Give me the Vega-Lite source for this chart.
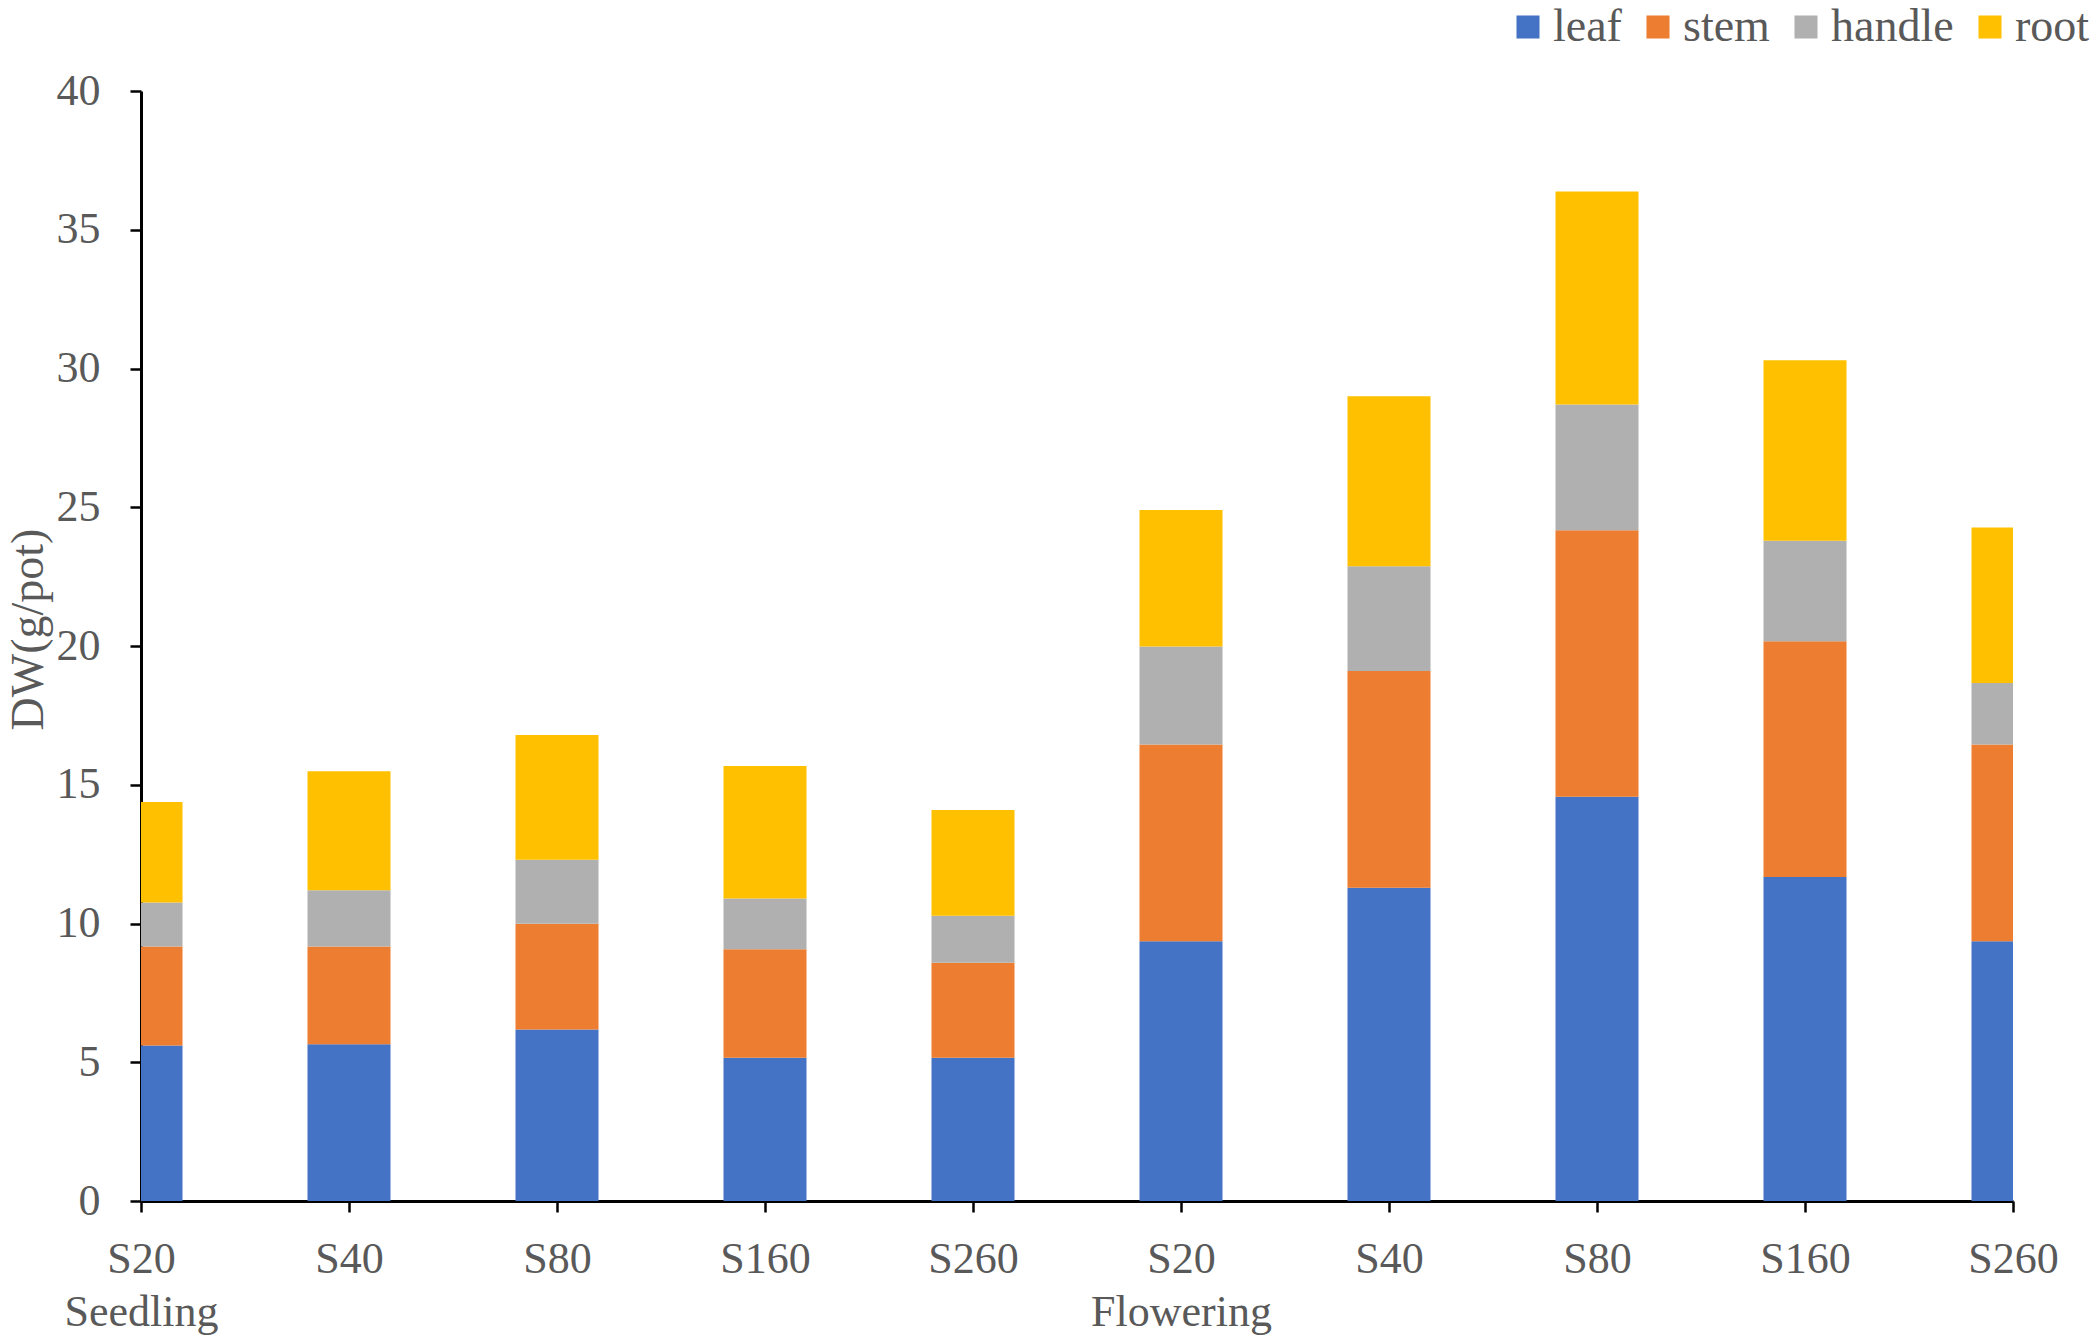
{
  "$schema": "https://vega.github.io/schema/vega-lite/v6.json",
  "width": 1872,
  "height": 1110,
  "autosize": {"type": "none"},
  "padding": {"left": 141, "top": 91, "right": 87, "bottom": 141},
  "background": "white",
  "config": {
    "view": {"stroke": null},
    "font": "Liberation Serif"
  },
  "data": {
    "values": [
      {"treatment": "Seedling S20", "part": "leaf", "value": 5.6},
      {"treatment": "Seedling S20", "part": "stem", "value": 3.57},
      {"treatment": "Seedling S20", "part": "handle", "value": 1.59},
      {"treatment": "Seedling S20", "part": "root", "value": 3.62},
      {"treatment": "Seedling S40", "part": "leaf", "value": 5.65},
      {"treatment": "Seedling S40", "part": "stem", "value": 3.52},
      {"treatment": "Seedling S40", "part": "handle", "value": 2.03},
      {"treatment": "Seedling S40", "part": "root", "value": 4.29},
      {"treatment": "Seedling S80", "part": "leaf", "value": 6.18},
      {"treatment": "Seedling S80", "part": "stem", "value": 3.81},
      {"treatment": "Seedling S80", "part": "handle", "value": 2.31},
      {"treatment": "Seedling S80", "part": "root", "value": 4.49},
      {"treatment": "Seedling S160", "part": "leaf", "value": 5.16},
      {"treatment": "Seedling S160", "part": "stem", "value": 3.91},
      {"treatment": "Seedling S160", "part": "handle", "value": 1.83},
      {"treatment": "Seedling S160", "part": "root", "value": 4.78},
      {"treatment": "Seedling S260", "part": "leaf", "value": 5.16},
      {"treatment": "Seedling S260", "part": "stem", "value": 3.43},
      {"treatment": "Seedling S260", "part": "handle", "value": 1.69},
      {"treatment": "Seedling S260", "part": "root", "value": 3.81},
      {"treatment": "Flowering S20", "part": "leaf", "value": 9.36},
      {"treatment": "Flowering S20", "part": "stem", "value": 7.09},
      {"treatment": "Flowering S20", "part": "handle", "value": 3.53},
      {"treatment": "Flowering S20", "part": "root", "value": 4.92},
      {"treatment": "Flowering S40", "part": "leaf", "value": 11.29},
      {"treatment": "Flowering S40", "part": "stem", "value": 7.81},
      {"treatment": "Flowering S40", "part": "handle", "value": 3.77},
      {"treatment": "Flowering S40", "part": "root", "value": 6.13},
      {"treatment": "Flowering S80", "part": "leaf", "value": 14.57},
      {"treatment": "Flowering S80", "part": "stem", "value": 9.6},
      {"treatment": "Flowering S80", "part": "handle", "value": 4.53},
      {"treatment": "Flowering S80", "part": "root", "value": 7.68},
      {"treatment": "Flowering S160", "part": "leaf", "value": 11.68},
      {"treatment": "Flowering S160", "part": "stem", "value": 8.49},
      {"treatment": "Flowering S160", "part": "handle", "value": 3.62},
      {"treatment": "Flowering S160", "part": "root", "value": 6.51},
      {"treatment": "Flowering S260", "part": "leaf", "value": 9.36},
      {"treatment": "Flowering S260", "part": "stem", "value": 7.09},
      {"treatment": "Flowering S260", "part": "handle", "value": 2.22},
      {"treatment": "Flowering S260", "part": "root", "value": 5.6}
    ]
  },
  "transform": [
    {"calculate": "indexof(['leaf', 'stem', 'handle', 'root'], datum.part)", "as": "stackOrder"}
  ],
  "mark": {"type": "bar", "width": 83, "clip": true},
  "encoding": {
    "x": {
      "field": "treatment",
      "type": "ordinal",
      "sort": ["Seedling S20", "Seedling S40", "Seedling S80", "Seedling S160", "Seedling S260", "Flowering S20", "Flowering S40", "Flowering S80", "Flowering S160", "Flowering S260"],
      "scale": {"type": "point", "padding": 0},
      "axis": {
        "title": null,
        "labelAngle": 0,
        "labelFontSize": 44,
        "labelColor": "#595959",
        "labelFont": "Liberation Serif",
        "labelPadding": 25,
        "labelLineHeight": 53,
        "labelLimit": 500,
        "labelExpr": "indexof(datum.label, 'S20') > 0 && length(datum.label) - indexof(datum.label, 'S20') == 3 ? [split(datum.label, ' ')[1], split(datum.label, ' ')[0]] : split(datum.label, ' ')[1]",
        "domainColor": "#000000",
        "domainWidth": 3,
        "tickColor": "#000000",
        "tickWidth": 2.5,
        "tickSize": 11,
        "grid": false
      }
    },
    "y": {
      "field": "value",
      "type": "quantitative",
      "stack": "zero",
      "scale": {"domain": [0, 40], "nice": false},
      "axis": {
        "title": "DW(g/pot)",
        "titleFont": "Liberation Serif",
        "titleFontSize": 46,
        "titleFontWeight": "normal",
        "titleColor": "#595959",
        "titleAngle": -90,
        "titleX": -113,
        "titleY": 538,
        "titleAlign": "center",
        "titleBaseline": "middle",
        "values": [0, 5, 10, 15, 20, 25, 30, 35, 40],
        "labelFontSize": 44,
        "labelColor": "#595959",
        "labelFont": "Liberation Serif",
        "labelPadding": 30,
        "domainColor": "#000000",
        "domainWidth": 3,
        "tickColor": "#000000",
        "tickWidth": 2.5,
        "tickSize": 11,
        "grid": false
      }
    },
    "color": {
      "field": "part",
      "type": "nominal",
      "sort": ["leaf", "stem", "handle", "root"],
      "scale": {"domain": ["leaf", "stem", "handle", "root"], "range": ["#4472C4", "#ED7D31", "#B0B0B0", "#FFC000"]},
      "legend": {
        "title": null,
        "orient": "none",
        "direction": "horizontal",
        "legendX": 1364,
        "legendY": -87,
        "symbolType": "square",
        "symbolSize": 530,
        "symbolStrokeWidth": 0,
        "labelFontSize": 46,
        "labelFont": "Liberation Serif",
        "labelColor": "#595959",
        "labelOffset": 2,
        "labelLimit": 300,
        "columnPadding": 13,
        "padding": 0
      }
    },
    "order": {"field": "stackOrder", "type": "quantitative", "sort": "ascending"}
  }
}
